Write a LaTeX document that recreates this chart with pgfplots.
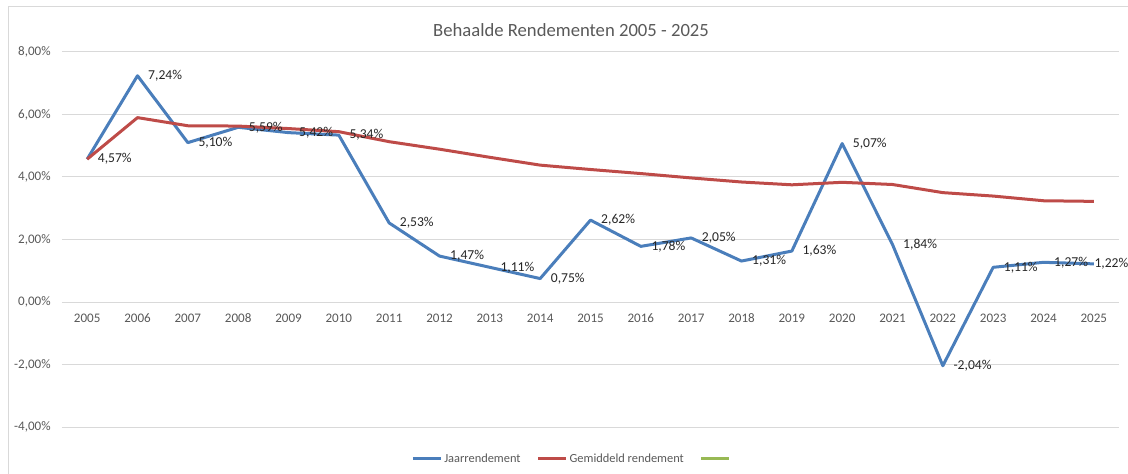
\documentclass[border=0pt]{standalone}
\usepackage{fontspec}
\setmainfont{Carlito}
\usepackage{pgfplots}
\pgfplotsset{compat=1.18}
\usepackage{pgfplotstable}
\definecolor{xblue}{RGB}{74,126,187}
\definecolor{xred}{RGB}{190,75,72}
\definecolor{xgreen}{RGB}{152,185,84}
\definecolor{xgrid}{RGB}{217,217,217}
\definecolor{xtext}{RGB}{89,89,89}

\pgfplotstableread{
x jaar gem
0 4.57 4.57
1 7.24 5.90
2 5.10 5.64
3 5.59 5.63
4 5.42 5.55
5 5.34 5.45
6 2.53 5.13
7 1.47 4.89
8 1.11 4.63
9 0.75 4.38
10 2.62 4.24
11 1.78 4.11
12 2.05 3.97
13 1.31 3.84
14 1.63 3.75
15 5.07 3.83
16 1.84 3.76
17 -2.04 3.50
18 1.11 3.39
19 1.27 3.24
20 1.22 3.22
}\data

\pgfplotsset{
  dlabel/.style={draw=none, forget plot, point meta=y,
    nodes near coords={\pgfmathprintnumber[fixed,fixed zerofill,precision=2,use comma,assume math mode=true]{\pgfplotspointmeta}\%},
    every node near coord/.append style={anchor=west, xshift=#1, font=\fontsize{10.2}{12}\selectfont, text=black!85}},
}

\begin{document}
\begin{tikzpicture}
\path[use as bounding box] (0pt,0pt) rectangle (846pt,-355.5pt);
\draw[xgrid, line width=0.75pt] (6pt,-360pt) -- (6pt,-5.25pt) -- (850pt,-5.25pt);
\node[text=xtext, font=\fontsize{14}{16}\selectfont] at (428.25pt,-22.5pt) {Behaalde Rendementen 2005 - 2025};
\begin{axis}[
  at={(46.5pt,-39pt)}, anchor=north west,
  scale only axis, width=792.75pt, height=281.25pt,
  xmin=-0.5, xmax=20.5, ymin=-4, ymax=8,
  axis x line=middle, axis y line=left,
  hide obscured x ticks=false, hide obscured y ticks=false,
  x axis line style={xgrid, line width=0.75pt, -},
  y axis line style={draw=none},
  xtick={0,...,20},
  xticklabels={2005,2006,2007,2008,2009,2010,2011,2012,2013,2014,2015,2016,2017,2018,2019,2020,2021,2022,2023,2024,2025},
  ytick={-4,-2,0,2,4,6,8},
  yticklabels={-4{,}00\%,-2{,}00\%,0{,}00\%,2{,}00\%,4{,}00\%,6{,}00\%,8{,}00\%},
  major tick length=0pt,
  ymajorgrids, grid style={xgrid, line width=0.75pt},
  ticklabel style={font=\fontsize{9.8}{11}\selectfont, text=xtext},
  yticklabel style={xshift=-5pt},
  xticklabel style={yshift=-5.5pt},
  clip=false,
  legend style={at={(0.4835,-0.0853)}, anchor=center, draw=none, fill=none,
    legend columns=3, font=\fontsize{9.3}{11}\selectfont, text=xtext,
    /tikz/every even column/.append style={column sep=10.5pt},
    nodes={inner xsep=1.5pt}},
  legend image code/.code={\draw[#1] (0pt,0pt) -- (21pt,0pt);},
]
\addplot[xblue, line width=2.25pt, line join=round] table[x=x, y=jaar]{\data};
\addlegendentry{Jaarrendement}
\addplot[xred, line width=2.25pt, line join=round] table[x=x, y=gem]{\data};
\addlegendentry{Gemiddeld rendement}
\addlegendimage{xgreen, line width=2.25pt}
\addlegendentry{}
\addplot[dlabel=4.5pt, skip coords between index={20}{21}] table[x=x, y=jaar]{\data};
\addplot[dlabel=-3pt, skip coords between index={0}{20}] table[x=x, y=jaar]{\data};
\end{axis}
\end{tikzpicture}
\end{document}
